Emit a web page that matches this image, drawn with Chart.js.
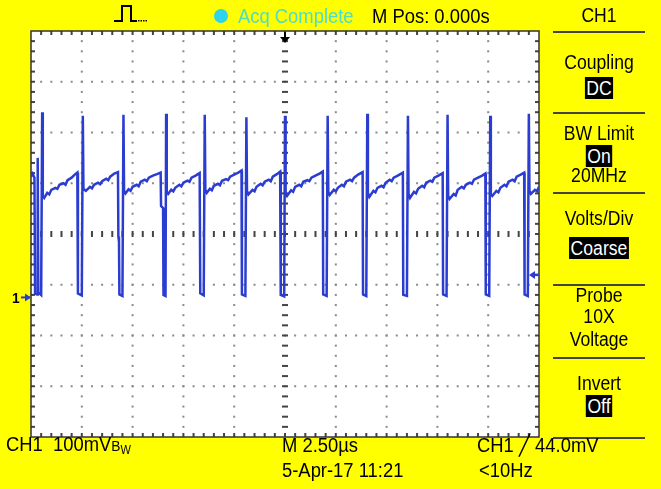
<!DOCTYPE html>
<html>
<head>
<meta charset="utf-8">
<script src="https://cdn.jsdelivr.net/npm/chart.js@4"></script>
<style>
  html, body { margin: 0; padding: 0; }
  body { width: 661px; height: 489px; background: #ffff00; position: relative; overflow: hidden; }
  #scope { position: absolute; left: 0; top: 0; }
  .t { position: absolute; font-family: 'Liberation Sans', Arial, sans-serif;
       font-size: 20px; line-height: 1; white-space: nowrap; color: #000;
       transform: translateY(-50%) scaleX(0.92); transform-origin: left center; }
  .m { left: 553px; width: 92px; text-align: center; transform: translateY(-50%) scaleX(0.88); transform-origin: center center; }
  .box { background: #000; color: #fff; padding: 0 2px; }
  .rule { position: absolute; left: 553px; width: 92px; height: 2px; background: #444; }
  sub { font-size: 12px; vertical-align: -3px; }
</style>
</head>
<body>
<canvas id="scope" width="661" height="489"></canvas>

<div class="t" style="left:238px; top:16px; color:#4fdcc8;">Acq Complete</div>
<div class="t" style="left:372px; top:16px;">M Pos: 0.000s</div>
<div class="t m" style="top:15px;">CH1</div>

<div class="t m" style="top:62px;">Coupling</div>
<div class="t m" style="top:88px;"><span class="box">DC</span></div>
<div class="t m" style="top:133px;">BW Limit</div>
<div class="t m" style="top:156px;"><span class="box">On</span></div>
<div class="t m" style="top:175px;">20MHz</div>
<div class="t m" style="top:218px;">Volts/Div</div>
<div class="t m" style="top:248px;"><span class="box">Coarse</span></div>
<div class="t m" style="top:295px;">Probe</div>
<div class="t m" style="top:316px;">10X</div>
<div class="t m" style="top:339px;">Voltage</div>
<div class="t m" style="top:383px;">Invert</div>
<div class="t m" style="top:406px;"><span class="box">Off</span></div>

<div class="rule" style="top:31px;"></div>
<div class="rule" style="top:112px;"></div>
<div class="rule" style="top:192px;"></div>
<div class="rule" style="top:284px;"></div>
<div class="rule" style="top:357px;"></div>
<div class="rule" style="top:437px;"></div>

<div class="t" style="left:6px; top:445px;">CH1&nbsp;&nbsp;100mV<span style="font-size:15px">B</span><sub>W</sub></div>
<div class="t" style="left:282px; top:445px;">M 2.50µs</div>
<div class="t" style="left:477px; top:445px;">CH1 ╱ 44.0mV</div>
<div class="t" style="left:282px; top:470px;">5-Apr-17 11:21</div>
<div class="t" style="left:479px; top:470px;">&lt;10Hz</div>
<div class="t" style="left:12px; top:297px; font-size:15px; font-weight:bold;">1</div>

<script>
// horizontal: 2.50 us/div, 10 divisions, M Pos 0.000s in the centre
const timePerDiv = 2.5;
const timeMin = -12.5;
const timeMax = 12.5;
// vertical: 100 mV/div, 8 divisions, ground marker 1.25 div below centre
const voltPerDiv = 100;
const voltMin = -275;
const voltMax = 525;
const triggerLevel = 44.0;

// CH1 trace: [time in us, voltage in mV]
const tracePoints = [
  [-12.5, 238], [-12.42, 244], [-12.33, 236], [-12.3, 8], [-12.2, 6], [-12.17, 275], [-12.14, 10], [-12.0, 5],
  [-11.95, 365], [-11.92, 200], [-11.85, 196], [-11.7, 206], [-11.6, 203], [-11.5, 212], [-11.3, 216], [-11.2, 214],
  [-11.1, 222], [-10.9, 225], [-10.8, 222], [-10.7, 231], [-10.5, 236], [-10.35, 242], [-10.22, 246], [-10.19, 8], [-10.0, 4],
  [-9.95, 358], [-9.92, 214], [-9.8, 210], [-9.6, 218], [-9.5, 215], [-9.4, 222], [-9.2, 226], [-9.1, 223], [-9.0, 229],
  [-8.8, 234], [-8.7, 231], [-8.6, 238], [-8.4, 244], [-8.22, 247], [-8.2, 120], [-8.17, 110], [-8.15, 6], [-8.0, 3],
  [-7.95, 360], [-7.92, 210], [-7.85, 205], [-7.7, 213], [-7.6, 210], [-7.5, 218], [-7.3, 222], [-7.2, 219], [-7.1, 228],
  [-6.9, 232], [-6.8, 229], [-6.7, 236], [-6.5, 240], [-6.3, 243], [-6.12, 246], [-6.1, 180], [-6.0, 176], [-5.98, 5], [-5.88, 3],
  [-5.85, 362], [-5.82, 208], [-5.75, 204], [-5.6, 212], [-5.5, 209], [-5.4, 216], [-5.2, 222], [-5.1, 219], [-5.0, 226],
  [-4.8, 230], [-4.7, 228], [-4.6, 236], [-4.4, 240], [-4.2, 245], [-4.17, 8], [-4.0, 4],
  [-3.95, 360], [-3.92, 212], [-3.85, 206], [-3.7, 214], [-3.6, 211], [-3.5, 220], [-3.3, 224], [-3.2, 221], [-3.1, 230],
  [-2.9, 233], [-2.8, 231], [-2.7, 238], [-2.5, 242], [-2.3, 246], [-2.14, 250], [-2.12, 6], [-1.95, 3],
  [-1.9, 355], [-1.87, 210], [-1.8, 203], [-1.6, 212], [-1.5, 209], [-1.4, 218], [-1.2, 224], [-1.1, 221], [-1.0, 228],
  [-0.8, 232], [-0.7, 229], [-0.6, 238], [-0.4, 243], [-0.24, 248], [-0.21, 5], [-0.04, 2],
  [0.0, 358], [0.03, 205], [0.1, 200], [0.3, 211], [0.4, 208], [0.5, 218], [0.7, 222], [0.8, 219], [0.9, 228],
  [1.1, 231], [1.2, 229], [1.3, 236], [1.5, 240], [1.7, 244], [1.86, 248], [1.88, 6], [2.05, 3],
  [2.1, 358], [2.13, 208], [2.2, 202], [2.4, 212], [2.5, 209], [2.6, 216], [2.8, 222], [2.9, 219], [3.0, 228],
  [3.2, 232], [3.3, 229], [3.4, 236], [3.6, 242], [3.82, 247], [3.84, 6], [4.0, 3],
  [4.05, 362], [4.08, 206], [4.15, 198], [4.35, 210], [4.45, 207], [4.55, 216], [4.75, 220], [4.85, 217], [4.95, 226],
  [5.15, 232], [5.25, 229], [5.35, 236], [5.55, 240], [5.8, 246], [5.82, 5], [6.0, 3],
  [6.05, 358], [6.08, 204], [6.15, 196], [6.35, 208], [6.45, 205], [6.55, 214], [6.75, 220], [6.85, 217], [6.95, 226],
  [7.15, 230], [7.25, 228], [7.35, 236], [7.55, 240], [7.76, 245], [7.78, 6], [7.95, 3],
  [8.0, 360], [8.03, 200], [8.1, 194], [8.3, 204], [8.4, 201], [8.5, 212], [8.7, 218], [8.8, 215], [8.9, 222],
  [9.1, 226], [9.2, 224], [9.3, 232], [9.5, 236], [9.7, 240], [9.86, 244], [9.88, 6], [10.05, 3],
  [10.1, 358], [10.13, 204], [10.2, 200], [10.4, 210], [10.5, 207], [10.6, 216], [10.8, 222], [10.9, 219], [11.0, 228],
  [11.2, 232], [11.3, 229], [11.4, 238], [11.6, 242], [11.77, 246], [11.79, 6], [11.95, 3],
  [12.0, 362], [12.03, 210], [12.1, 204], [12.3, 212], [12.4, 209], [12.5, 218]
];

const traceColor = '#2b3cd0';

// white screen, dotted graticule, centre ticks and border ticks
const graticule = {
  id: 'graticule',
  beforeDatasetsDraw(chart) {
    const { ctx, chartArea: a, scales: { x, y } } = chart;
    const xs = [], ys = [];
    for (let i = 0; i <= 10; i++) xs.push(x.getPixelForValue(timeMin + i * timePerDiv));
    for (let j = 0; j <= 8; j++) ys.push(y.getPixelForValue(voltMax - j * voltPerDiv));
    const dx = (xs[10] - xs[0]) / 50;
    const dy = (ys[8] - ys[0]) / 40;
    ctx.save();
    ctx.fillStyle = '#fff';
    ctx.fillRect(a.left, a.top, a.right - a.left, a.bottom - a.top);
    ctx.fillStyle = '#8a8a8a';
    for (let i = 1; i < 10; i++) {
      if (i === 5) continue;
      for (let k = 1; k < 40; k++) ctx.fillRect(xs[i] - 1, ys[0] + k * dy - 1, 2, 2);
    }
    for (let j = 1; j < 8; j++) {
      if (j === 4) continue;
      for (let k = 1; k < 50; k++) ctx.fillRect(xs[0] + k * dx - 1, ys[j] - 1, 2, 2);
    }
    ctx.fillStyle = '#444';
    for (let k = 1; k < 40; k++) ctx.fillRect(xs[5] - 3, ys[0] + k * dy - 1, 6, 2);
    for (let k = 1; k < 50; k++) ctx.fillRect(xs[0] + k * dx - 1, ys[4] - 3, 2, 6);
    // ticks on the frame
    for (let k = 1; k < 50; k++) {
      ctx.fillRect(xs[0] + k * dx - 1, ys[0], 2, 4);
      ctx.fillRect(xs[0] + k * dx - 1, ys[8] - 4, 2, 4);
    }
    for (let k = 1; k < 40; k++) {
      ctx.fillRect(xs[0], ys[0] + k * dy - 1, 4, 2);
      ctx.fillRect(xs[10] - 4, ys[0] + k * dy - 1, 4, 2);
    }
    ctx.strokeStyle = '#333';
    ctx.lineWidth = 1.5;
    ctx.strokeRect(a.left, a.top, a.right - a.left, a.bottom - a.top);
    ctx.restore();
  },
  afterDraw(chart) {
    const { ctx, chartArea: a, scales: { x, y } } = chart;
    ctx.save();
    // trigger position (top)
    const tx = x.getPixelForValue(0);
    ctx.fillStyle = '#000';
    ctx.fillRect(tx - 1, a.top + 1, 2, 9);
    ctx.beginPath();
    ctx.moveTo(tx - 5, a.top + 6); ctx.lineTo(tx + 5, a.top + 6); ctx.lineTo(tx, a.top + 12);
    ctx.closePath(); ctx.fill();
    // trigger level (right)
    const ty = y.getPixelForValue(triggerLevel);
    ctx.fillStyle = traceColor;
    ctx.fillRect(a.right - 8, ty - 1, 8, 2);
    ctx.beginPath();
    ctx.moveTo(a.right - 10, ty); ctx.lineTo(a.right - 4, ty - 4); ctx.lineTo(a.right - 4, ty + 4);
    ctx.closePath(); ctx.fill();
    // ground marker (left)
    const gy = y.getPixelForValue(0);
    ctx.fillRect(a.left - 10, gy - 1, 9, 2);
    ctx.beginPath();
    ctx.moveTo(a.left, gy); ctx.lineTo(a.left - 6, gy - 4); ctx.lineTo(a.left - 6, gy + 4);
    ctx.closePath(); ctx.fill();
    // edge trigger icon (top left)
    ctx.strokeStyle = '#000';
    ctx.lineWidth = 2;
    ctx.beginPath();
    ctx.moveTo(114, 21); ctx.lineTo(122, 21); ctx.lineTo(122, 6); ctx.lineTo(131, 6);
    ctx.lineTo(131, 21); ctx.lineTo(137, 21);
    ctx.stroke();
    ctx.fillStyle = '#000';
    for (let k = 0; k < 4; k++) ctx.fillRect(138 + k * 2.5, 20, 1.5, 1.5);
    // acquisition dot
    ctx.fillStyle = '#2fd3ea';
    ctx.beginPath();
    ctx.arc(221, 16, 7, 0, Math.PI * 2);
    ctx.fill();
    ctx.restore();
  }
};

const ctx = document.getElementById('scope');

// eslint-disable-next-line no-unused-vars
const scopeChart = new Chart(ctx, {
  type: 'line',
  data: {
    datasets: [{
      data: tracePoints.map(([t, v]) => ({ x: t, y: v })),
      borderColor: traceColor,
      borderWidth: 2.5,
      pointRadius: 0,
      tension: 0,
      fill: false
    }]
  },
  options: {
    responsive: false,
    animation: false,
    devicePixelRatio: 1,
    layout: { padding: { left: 31, top: 31, right: 122, bottom: 52 } },
    scales: {
      x: { type: 'linear', min: timeMin, max: timeMax, display: false },
      y: { min: voltMin, max: voltMax, display: false }
    },
    plugins: {
      legend: { display: false },
      tooltip: { enabled: false }
    }
  },
  plugins: [graticule]
});
</script>
</body>
</html>
